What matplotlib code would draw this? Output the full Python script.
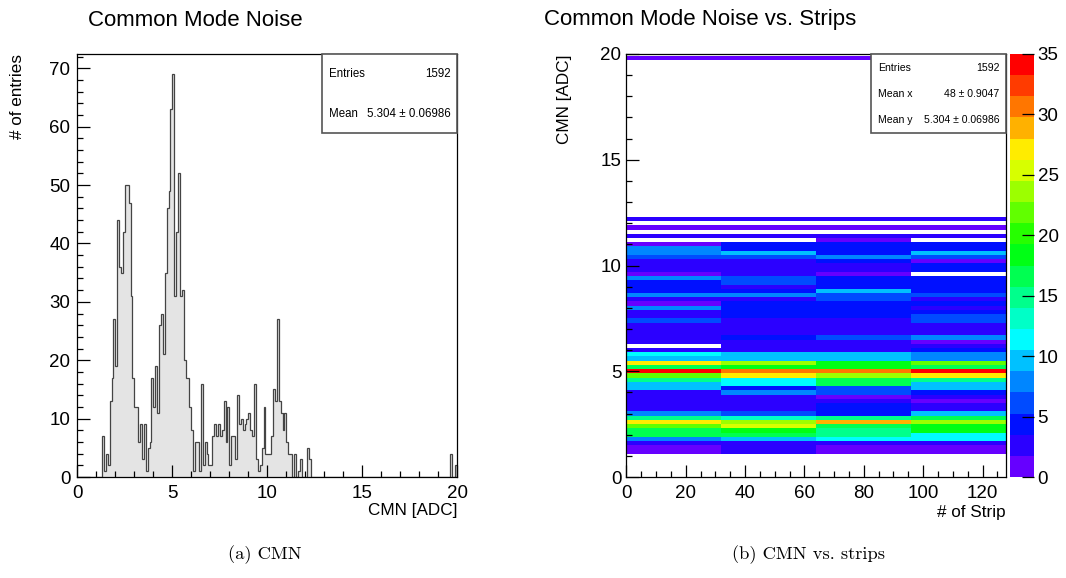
import numpy as np
import matplotlib
matplotlib.use("Agg")
import matplotlib.pyplot as plt
from matplotlib.colors import ListedColormap, BoundaryNorm, hsv_to_rgb
from matplotlib.patches import Rectangle
from matplotlib.ticker import MultipleLocator

plt.rcParams['font.family'] = ['Liberation Sans', 'DejaVu Sans']

# 1D histogram: 200 bins of 0.1 ADC, counts from bin 13 (x=1.3) on
cmn_first_bin = 13
cmn_counts = [7, 1, 4, 2, 13, 17, 27, 19, 44, 36, 35, 42, 50, 50, 47, 31, 17,
              12, 12, 6, 9, 3, 9, 1, 5, 6, 17, 12, 19, 11, 26, 28, 21, 35, 46,
              49, 63, 69, 31, 42, 52, 31, 32, 20, 17, 17, 12, 8, 1, 6, 6, 1,
              16, 2, 6, 4, 2, 2, 7, 9, 7, 9, 7, 8, 13, 6, 12, 2, 7, 7, 3, 14,
              9, 10, 8, 9, 10, 11, 8, 7, 16, 3, 1, 2, 5, 12, 4, 4, 4, 7, 15,
              13, 27, 13, 11, 8, 11, 6, 4, 4, 0, 4, 0, 1, 3, 0, 0, 0, 5, 3]
cmn_tail = {196: 4, 199: 2}

# 2D histogram: 4 strip groups, rows of 0.2 ADC centred on 0.2*m, from m=6
strip_edges = [0, 32, 64, 96, 128]
row_first = 6
strips_0_31 = [1, 1, 3, 8, 17, 16, 22, 27, 15, 8, 3, 3, 3, 3, 3, 10, 10, 15,
               22, 34, 16, 27, 10, 12, 3, 0, 3, 3, 3, 3, 3, 6, 3, 3, 8, 1, 3,
               8, 5, 5, 5, 8, 1, 3, 3, 3, 6, 8, 8, 1, 0, 3, 0, 1, 0, 2]
strips_32_63 = [3, 2, 3, 10, 16, 19, 25, 24, 13, 6, 3, 3, 3, 3, 8, 5, 12, 12,
                27, 31, 19, 24, 10, 10, 3, 3, 3, 5, 3, 3, 3, 3, 5, 5, 5, 5, 3,
                8, 5, 3, 6, 6, 2, 3, 3, 3, 6, 10, 5, 5, 0, 3, 0, 1, 0, 2]
strips_64_95 = [1, 1, 3, 11, 15, 15, 16, 29, 15, 5, 5, 5, 2, 1, 6, 6, 16, 17,
                24, 31, 19, 19, 9, 9, 3, 3, 3, 6, 3, 3, 3, 3, 5, 5, 5, 5, 6,
                6, 9, 5, 5, 5, 1, 3, 3, 5, 8, 5, 5, 5, 1, 3, 0, 1, 0, 2]
strips_96_127 = [1, 1, 3, 12, 12, 19, 19, 24, 16, 9, 3, 3, 1, 3, 4, 10, 10, 15,
                 27, 34, 17, 22, 8, 8, 4, 3, 1, 8, 3, 3, 3, 6, 6, 5, 3, 5, 3,
                 6, 5, 5, 5, 5, 0, 5, 5, 1, 6, 10, 5, 5, 0, 3, 0, 1, 0, 2]
top_row = 99
top_row_counts = [1, 1, 1, 1]

W, H = 1066, 578
fig = plt.figure(figsize=(W / 100, H / 100), dpi=100)


def px_axes(x0, y0, x1, y1):
    return fig.add_axes([x0 / W, 1 - y1 / H, (x1 - x0) / W, (y1 - y0) / H])


def ftext(x, y, s, **kw):
    return fig.text(x / W, 1 - y / H, s, **kw)


def stats_box(x0, y0, x1, y1, rows, fs):
    fig.patches.append(Rectangle((x0 / W, 1 - y1 / H), (x1 - x0) / W,
                                 (y1 - y0) / H, transform=fig.transFigure,
                                 facecolor='white', edgecolor='#555555',
                                 lw=1.2, zorder=5))
    for ty, left, right in rows:
        ftext(x0 + 7, ty, left, fontsize=fs, va='center', ha='left', zorder=6)
        ftext(x1 - 7, ty, right, fontsize=fs, va='center', ha='right', zorder=6)


def root_ticks(ax, pad_x, pad_y, maj, mino):
    ax.tick_params(which='both', direction='in', top=False, right=False,
                   labelsize=13.5, width=0.9)
    ax.tick_params(which='major', length=maj)
    ax.tick_params(which='minor', length=mino)
    ax.tick_params(axis='x', pad=pad_x)
    ax.tick_params(axis='y', pad=pad_y)
    for s in ax.spines.values():
        s.set_linewidth(0.9)


# ---- left: CMN
counts = np.zeros(200)
counts[cmn_first_bin:cmn_first_bin + len(cmn_counts)] = cmn_counts
for b, v in cmn_tail.items():
    counts[b] = v
edges = np.linspace(0, 20, 201)

ax1 = px_axes(77.3, 54, 457.3, 477)
ax1.stairs(counts, edges, fill=True, color='#e4e4e4', zorder=1)
ax1.stairs(counts, edges, color='#444444', lw=0.9, zorder=2)
ax1.set_xlim(0, 20)
ax1.set_ylim(0, counts.max() * 1.05)
ax1.xaxis.set_major_locator(MultipleLocator(5))
ax1.xaxis.set_minor_locator(MultipleLocator(1))
ax1.yaxis.set_major_locator(MultipleLocator(10))
ax1.yaxis.set_minor_locator(MultipleLocator(2))
root_ticks(ax1, 6, 5, 9, 4.5)

ftext(195, 20, 'Common Mode Noise', fontsize=16, ha='center', va='center')
ftext(457, 511, 'CMN [ADC]', fontsize=12.3, ha='right', va='center')
ftext(18, 54, '# of entries', fontsize=12.3, rotation=90, ha='center', va='top')
stats_box(321.7, 54, 457.3, 133.3,
          [(74, 'Entries', '1592'), (114, 'Mean', '5.304 \u00b1 0.06986')],
          8.3)

# ---- right: CMN vs strips
n_rows = 100
grid = np.zeros((n_rows, 4))
for j, col in enumerate([strips_0_31, strips_32_63, strips_64_95, strips_96_127]):
    grid[row_first:row_first + len(col), j] = col
grid[top_row, :] = top_row_counts
y_edges = -0.1 + 0.2 * np.arange(n_rows + 1)

levels = np.linspace(0, 35, 21)
hues = np.linspace(264, 0, 20) / 360.0
cols = hsv_to_rgb(np.stack([hues, np.ones(20), np.ones(20)], axis=1))
cmap = ListedColormap(cols)
norm = BoundaryNorm(levels, cmap.N)

ax2 = px_axes(626.3, 54, 1006.3, 477)
mesh = ax2.pcolormesh(strip_edges, y_edges, np.ma.masked_equal(grid, 0),
                      cmap=cmap, norm=norm, shading='flat',
                      edgecolors='none', antialiased=False)
ax2.set_xlim(0, 128)
ax2.set_ylim(0, 20)
ax2.xaxis.set_major_locator(MultipleLocator(20))
ax2.xaxis.set_minor_locator(MultipleLocator(5))
ax2.yaxis.set_major_locator(MultipleLocator(5))
ax2.yaxis.set_minor_locator(MultipleLocator(1))
root_ticks(ax2, 6, 3.5, 9, 4.5)

cax = px_axes(1009.5, 54, 1033.5, 477)
cb = fig.colorbar(mesh, cax=cax, ticks=np.arange(0, 36, 5))
cb.outline.set_visible(False)
cax.tick_params(direction='in', length=9, width=0.9, labelsize=13.5, pad=3)
cax.minorticks_off()

ftext(700, 20, 'Common Mode Noise vs. Strips', fontsize=16, ha='center', va='center')
ftext(1006, 513, '# of Strip', fontsize=12.3, ha='right', va='center')
ftext(565, 54, 'CMN [ADC]', fontsize=12.3, rotation=90, ha='center', va='top')
stats_box(870.7, 54, 1006.3, 133.3,
          [(68, 'Entries', '1592'), (94, 'Mean x', '48 \u00b1 0.9047'),
           (120, 'Mean y', '5.304 \u00b1 0.06986')],
          7.6)

# ---- captions
ftext(265, 555, '(a) CMN', fontsize=13.3, family='cmr10', ha='center', va='center')
ftext(808, 555, '(b) CMN vs. strips', fontsize=13.3, family='cmr10',
      ha='center', va='center')

fig.savefig('out.png', dpi=100)
